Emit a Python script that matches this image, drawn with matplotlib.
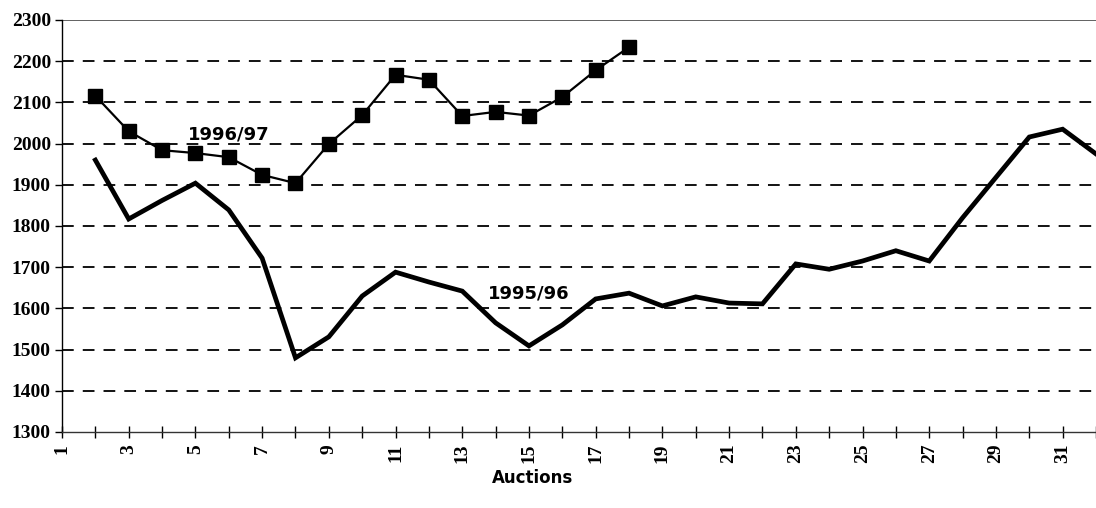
import matplotlib
matplotlib.use("Agg")
import matplotlib.pyplot as plt
import numpy as np

# Data
auctions_9697 = list(range(2, 19))
price_9697 = [2116, 2030, 1984, 1977, 1967, 1924, 1904, 1999, 2069, 2167,
              2155, 2067, 2077, 2068, 2113, 2178, 2234]

auctions_9596 = list(range(2, 33))
price_9596 = [1960, 1817, 1862, 1904, 1839, 1722, 1480, 1531, 1630, 1688,
              1664, 1642, 1565, 1509, 1560, 1623, 1637, 1606, 1628, 1613,
              1611, 1708, 1695, 1715, 1740, 1715, 1820, 1918, 2016, 2035, 1975]

y_ticks = list(range(1300, 2301, 100))
x_label_ticks = list(range(1, 32, 2))

fig = plt.figure(figsize=(10.96, 5.08), dpi=100)
ax = fig.add_axes([62/1096, 1-432/508, 1-62/1096, (432-20)/508])

# grid
for yv in y_ticks[1:-1]:
    ax.axhline(yv, color='black', lw=1.3, ls=(0, (6.5, 5)), zorder=1)
ax.axhline(2300, color='#555555', lw=1.3, zorder=1)

ax.plot(auctions_9596, price_9596, color='black', lw=3.4, solid_joinstyle='miter', zorder=3)
ax.plot(auctions_9697, price_9697, color='black', lw=1.6, marker='s', markersize=9.5, zorder=4)

ax.set_xlim(1, 31.94)
ax.set_ylim(1300, 2300)

ax.set_yticks(y_ticks)
ax.set_yticklabels([str(v) for v in y_ticks], fontfamily='Liberation Serif',
                   fontweight='bold', fontsize=14)
ax.set_xticks(list(range(1, 33)))
ax.set_xticklabels([str(v) if v in x_label_ticks else '' for v in range(1, 33)],
                   rotation=90, fontfamily='Liberation Serif', fontweight='bold', fontsize=14)
ax.tick_params(axis='x', direction='inout', length=9, width=1, pad=4)
ax.tick_params(axis='y', direction='out', length=5, width=1, pad=3)

for s in ['top', 'right']:
    ax.spines[s].set_visible(False)
ax.spines['left'].set_linewidth(1.0)
ax.spines['bottom'].set_linewidth(1.0)
ax.spines['bottom'].set_color('#333333')

ax.text(6.0, 2022, '1996/97', fontfamily='DejaVu Sans', fontweight='bold',
        fontsize=13, ha='center', va='center')
ax.text(15.0, 1635, '1995/96', fontfamily='DejaVu Sans', fontweight='bold',
        fontsize=13, ha='center', va='center')

fig.text(533/1096, 1-478/508, 'Auctions', fontfamily='DejaVu Sans', fontweight='bold',
         fontsize=12, ha='center', va='center')

fig.savefig('out.png', dpi=100)
